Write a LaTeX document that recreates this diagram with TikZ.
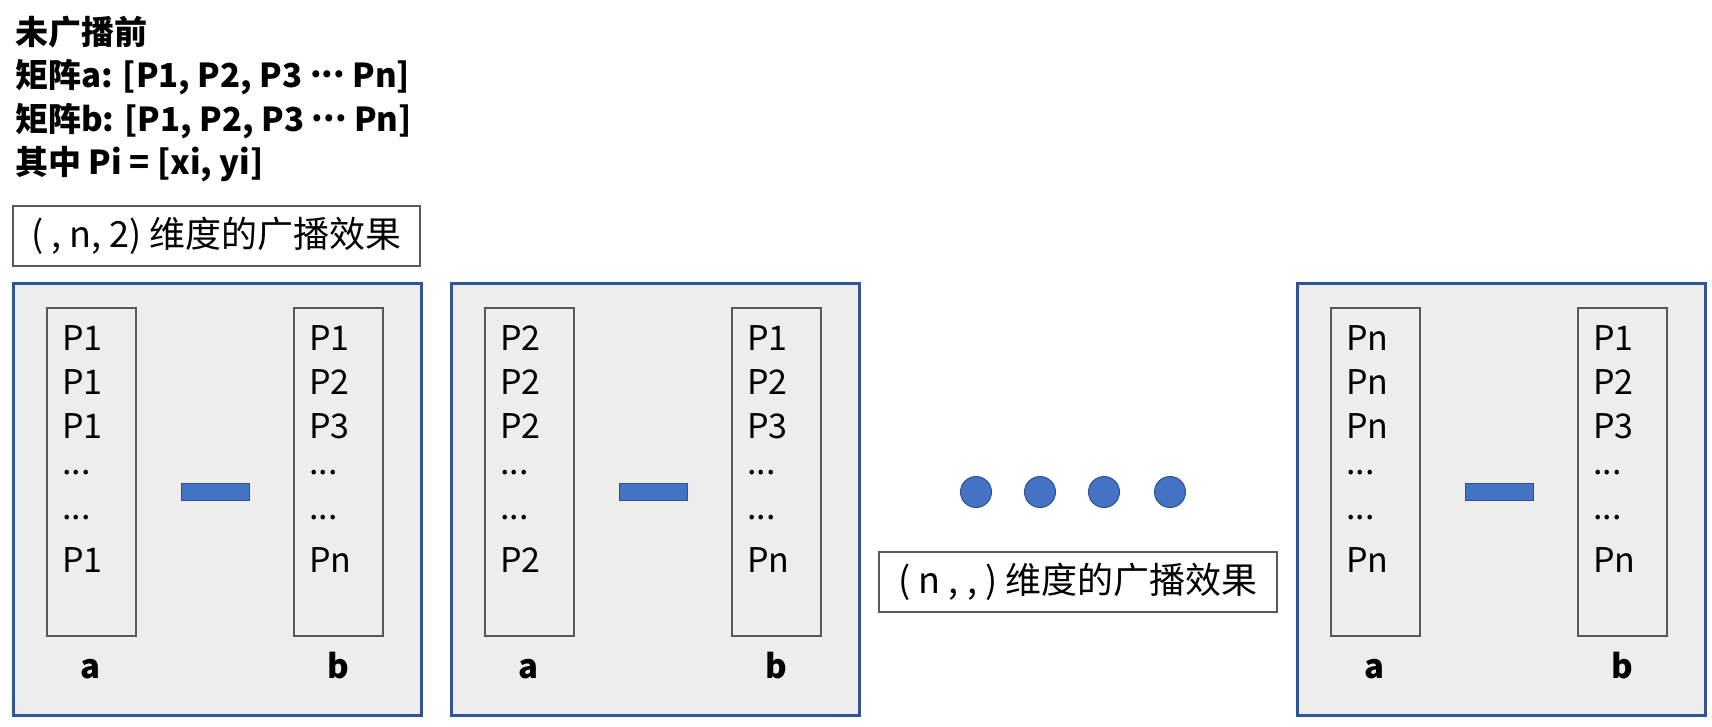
\documentclass[tikz,border=0pt]{standalone}
\usepackage{fontspec}
\setmainfont{Noto Sans CJK SC}
\definecolor{panelblue}{HTML}{2F5597}
\definecolor{panelgray}{HTML}{EDEDED}
\definecolor{boxgray}{HTML}{595959}
\definecolor{minusblue}{HTML}{4472C4}
\definecolor{minusline}{HTML}{2F528F}
\newcommand{\skipdots}{...}
\newcommand{\middots}{\raisebox{0.3em}{...}}
\tikzset{
	panel/.style = {draw = panelblue, line width = 3pt, fill = panelgray, anchor = north west, inner sep = 0pt, minimum width = 408pt, minimum height = 432pt},
	column/.style = {draw = boxgray, line width = 2pt, anchor = north west, inner sep = 0pt, minimum width = 89pt, minimum height = 328pt},
	minus/.style = {draw = minusline, fill = minusblue, line width = 1pt, anchor = north west, inner sep = 0pt, minimum width = 68pt, minimum height = 17pt},
	ball/.style = {circle, draw = minusline, fill = minusblue, line width = 1pt, inner sep = 0pt, minimum size = 31pt},
	caption/.style = {draw = boxgray, line width = 2pt, fill = white, anchor = north west, inner sep = 0pt, minimum height = 60pt, font = \fontsize{36}{36}\selectfont},
	entry/.style = {anchor = base west, inner sep = 0pt, font = \fontsize{34}{34}\selectfont},
	colname/.style = {anchor = base, inner sep = 0pt, font = \bfseries\fontsize{33}{33}\selectfont},
	headline/.style = {anchor = base west, inner sep = 0pt, font = \bfseries\fontsize{33}{33}\selectfont}
}
\begin{document}
\begin{tikzpicture}[x = 1pt, y = -1pt]
	\useasboundingbox (0, 0) rectangle (1712, 726);

	% header
	\node [headline] (h1) at (15, 44) {未广播前};
	\node [headline] (h2) at (15, 87) {矩阵a: [P1, P2, P3 \middots{} Pn]};
	\node [headline] (h3) at (15, 131) {矩阵b: [P1, P2, P3 \middots{} Pn]};
	\node [headline] (h4) at (15, 174) {其中 Pi = [xi, yi]};

	\node [caption, minimum width = 407pt] (cap1) at (12, 205) {( , n, 2) 维度的广播效果};

	% panels
	\foreach \px/\pa/\nm in {12/P1/one, 450/P2/two, 1296/Pn/three} {
		\node [panel] (\nm) at (\px, 282) {};
		\node [column] (\nm-a) at ({\px + 34}, 307) {};
		\node [column] (\nm-b) at ({\px + 281}, 307) {};
		\node [minus] (\nm-minus) at ({\px + 169}, 483) {};

		\foreach \i/\yy/\ta/\tb in {1/350/\pa/P1, 2/394/\pa/P2, 3/438/\pa/P3, 4/474/\skipdots/\skipdots, 5/519/\skipdots/\skipdots, 6/572/\pa/Pn} {
			\node [entry] (\nm-a\i) at ({\px + 50}, \yy) {\ta};
			\node [entry] (\nm-b\i) at ({\px + 297}, \yy) {\tb};
		}

		\node [colname] (\nm-la) at ({\px + 78.5}, 678) {a};
		\node [colname] (\nm-lb) at ({\px + 326}, 678) {b};
	}

	% dots between panels
	\foreach \bx [count = \k] in {976, 1040, 1104, 1170}
		\node [ball] (dot\k) at (\bx, 492) {};

	\node [caption, minimum width = 398pt] (cap2) at (878, 551) {( n , , ) 维度的广播效果};
\end{tikzpicture}
\end{document}
